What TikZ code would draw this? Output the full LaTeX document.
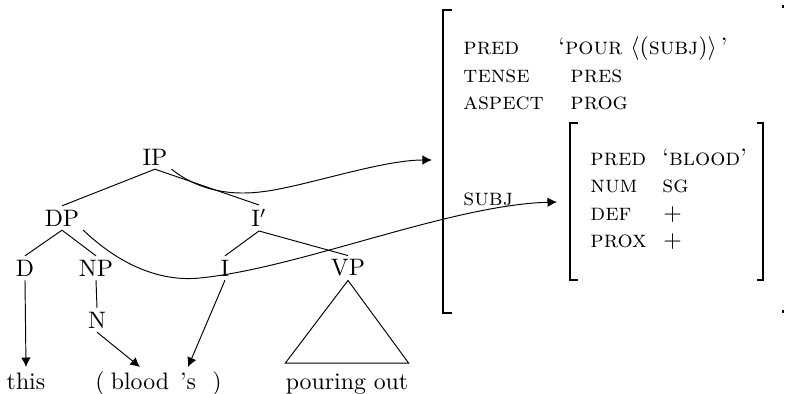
\documentclass[tikz,border=0pt]{standalone}
\usetikzlibrary{arrows.meta}

\begin{document}
\begin{tikzpicture}[x=0.42pt, y=-0.42pt, >={Latex[length=4pt, width=4pt]},
    cat/.style={inner sep=1.5pt},
    leaf/.style={inner sep=2.5pt, anchor=base},
    feat/.style={inner sep=0pt, anchor=base west},
    brack/.style={line width=0.8pt}]
  \useasboundingbox (0, 0) rectangle (785, 394);

  % c-structure
  \node[cat] (IP) at (155, 157) {IP};
  \node[cat] (DP) at (62, 218) {DP};
  \node[cat] (Ibar) at (259, 218) {I$'$};
  \node[cat] (D) at (25, 268) {D};
  \node[cat] (NP) at (96, 268) {NP};
  \node[cat] (I) at (225, 268) {I};
  \node[cat] (VP) at (348, 268) {VP};
  \node[cat] (N) at (97, 320) {N};

  \node[leaf] (this) at (26, 390) {this};
  \node[leaf] (lpar) at (100, 390) {(};
  \node[leaf] (blood) at (140, 390) {blood};
  \node[leaf] (poss) at (188, 390) {'s};
  \node[leaf] (rpar) at (217, 390) {)};
  \node[leaf] (pour) at (347, 390) {pouring out};

  \draw (IP.south) -- (DP.north);
  \draw (IP.south) -- (Ibar.north);
  \draw (DP.south) -- (D.north);
  \draw (DP.south) -- (NP.north);
  \draw (Ibar.south) -- (I.north);
  \draw (Ibar.south) -- (VP.north);
  \draw (NP.south) -- (N.north);
  \draw (VP.south) -- ([shift={(2.5pt, 2pt)}]pour.north west)
    -- ([shift={(-2.5pt, 2pt)}]pour.north east) -- cycle;

  \draw[->] (D.south) -- (this.north);
  \draw[->] (N.south) -- (blood.north);
  \draw[->] (I.south) -- (poss.north);

  % f-structure
  \draw[brack] (452, 10) -- (443, 10) -- (443, 313) -- (452, 313);
  \draw[brack] (783, 5) -- (783, 8);
  \draw[brack] (783, 310) -- (783, 313);
  \coordinate (fIP) at (432, 160);

  \node[feat] (pred) at (463, 55) {\textsc{pred}};
  \node[feat] (tense) at (463, 83) {\textsc{tense}};
  \node[feat] (aspect) at (463, 110) {\textsc{aspect}};
  \node[feat] (subj) at (463, 206) {\textsc{subj}};
  \node[feat] (predval) at (558, 55) {`\textsc{pour}\ $\langle$(\textsc{subj})$\rangle$\,'};
  \node[feat] (tenseval) at (570, 83) {\textsc{pres}};
  \node[feat] (aspectval) at (570, 110) {\textsc{prog}};

  \draw[brack] (578, 123) -- (570, 123) -- (570, 280) -- (578, 280);
  \draw[brack] (757, 123) -- (763, 123) -- (763, 280) -- (757, 280);
  \coordinate (fSUBJ) at (557, 202);

  \node[feat] (spred) at (590, 166) {\textsc{pred}};
  \node[feat] (num) at (590, 193) {\textsc{num}};
  \node[feat] (def) at (590, 221) {\textsc{def}};
  \node[feat] (prox) at (590, 248) {\textsc{prox}};
  \node[feat] (spredval) at (662, 166) {`\textsc{blood}'};
  \node[feat] (numval) at (662, 193) {\textsc{sg}};
  \node[feat] (defval) at (663, 221) {$+$};
  \node[feat] (proxval) at (663, 248) {$+$};

  % mapping
  \draw[->] (IP.south east) .. controls (195, 188) and (225, 196) .. (260, 192)
    .. controls (300, 188) and (380, 160) .. (fIP);
  \draw[->] (DP.south east) .. controls (120, 265) and (160, 282) .. (200, 278)
    .. controls (300, 268) and (450, 205) .. (fSUBJ);
\end{tikzpicture}
\end{document}
